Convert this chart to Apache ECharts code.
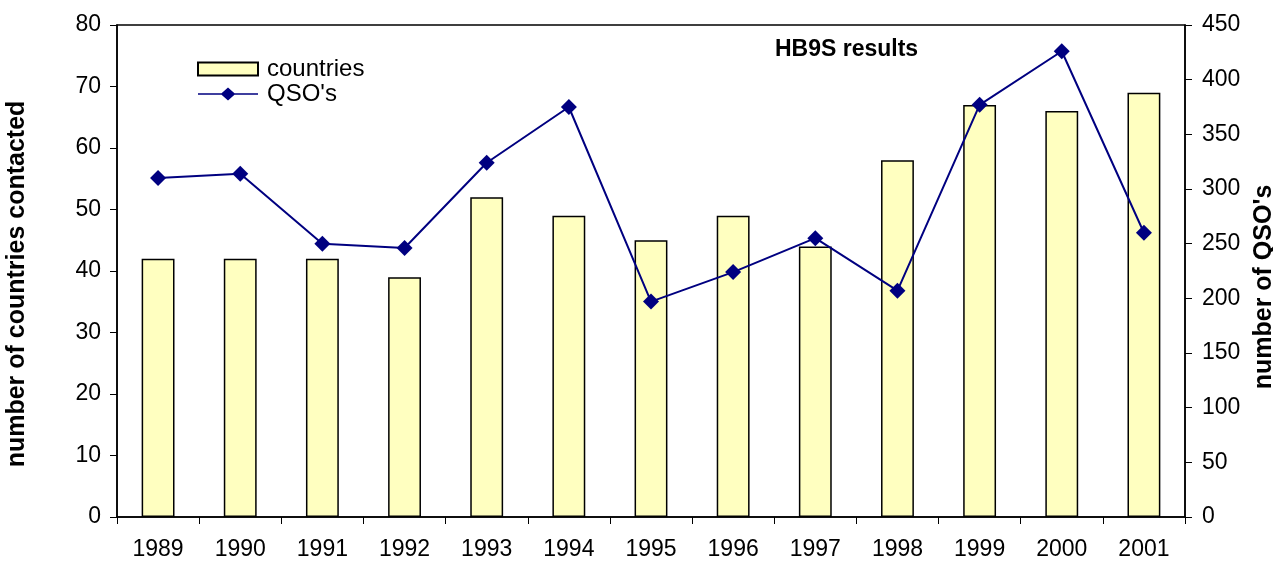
<!DOCTYPE html>
<html>
<head>
<meta charset="utf-8">
<script src="https://cdn.jsdelivr.net/npm/echarts@6/dist/echarts.min.js"></script>
<style>
html,body{margin:0;padding:0;background:#fff;}
#chart{width:1273px;height:561px;}
</style>
</head>
<body>
<div id="chart"></div>
<script>
const years = ['1989','1990','1991','1992','1993','1994','1995','1996','1997','1998','1999','2000','2001'];
const countries = [42, 42, 42, 39, 52, 49, 45, 49, 44, 58, 67, 66, 69];
const qsos = [310, 314, 250, 246, 324, 375, 197, 224, 255, 207, 377, 426, 260];

const FONT = '"Liberation Sans", Arial, sans-serif';
const lineDiamondIcon = 'path://M0,5.75 L23.5,5.75 L30,0 L36.5,5.75 L60,5.75 L60,7.25 L36.5,7.25 L30,13 L23.5,7.25 L0,7.25 Z';
const chart = echarts.init(document.getElementById('chart'), null, {renderer: 'canvas'});
chart.setOption({
  animation: false,
  backgroundColor: '#fff',
  textStyle: {fontFamily: FONT, color: '#000'},
  title: {
    text: 'HB9S results',
    left: 775, top: 38, padding: 0,
    textStyle: {fontFamily: FONT, fontSize: 23, fontWeight: 'bold', color: '#000'}
  },
  legend: {
    orient: 'vertical',
    left: 197, top: 57, padding: 0,
    itemWidth: 60, itemHeight: 13, itemGap: 1,
    textStyle: {fontFamily: FONT, fontSize: 24, lineHeight: 22, color: '#000', padding: [0,0,0,4]},
    data: [
      {name: 'countries', icon: 'rect'},
      {name: "QSO's", icon: lineDiamondIcon}
    ]
  },
  grid: {
    left: 117, right: 88, top: 25, bottom: 44,
    outerBoundsMode: 'none',
    containLabel: false,
    show: true, borderColor: '#000', borderWidth: 1.5, backgroundColor: 'transparent'
  },
  xAxis: {
    type: 'category',
    data: years,
    boundaryGap: true,
    axisLine: {lineStyle: {color: '#000', width: 1.5}},
    axisTick: {show: true, interval: 0, length: 7, lineStyle: {color: '#000'}},
    axisLabel: {fontFamily: FONT, fontSize: 23, color: '#000', margin: 21, interval: 0}
  },
  yAxis: [
    {
      type: 'value', min: 0, max: 80, interval: 10, position: 'left',
      name: 'number of countries contacted',
      nameLocation: 'middle', nameGap: 87, nameRotate: 90,
      nameTextStyle: {fontFamily: FONT, fontSize: 25, fontWeight: 'bold', color: '#000', padding: [0, 26, 0, 0]},
      axisLine: {show: true, lineStyle: {color: '#000', width: 1.5}},
      axisTick: {show: true, length: 7, lineStyle: {color: '#000'}},
      axisLabel: {fontFamily: FONT, fontSize: 23, color: '#000', margin: 16},
      splitLine: {show: false}
    },
    {
      type: 'value', min: 0, max: 450, interval: 50, position: 'right',
      name: "number of QSO's",
      nameLocation: 'middle', nameGap: 54, nameRotate: 90,
      nameTextStyle: {fontFamily: FONT, fontSize: 25, fontWeight: 'bold', color: '#000', padding: [0, 32, 0, 0]},
      axisLine: {show: true, lineStyle: {color: '#000', width: 1.5}},
      axisTick: {show: true, length: 7, lineStyle: {color: '#000'}},
      axisLabel: {fontFamily: FONT, fontSize: 23, color: '#000', margin: 17},
      splitLine: {show: false}
    }
  ],
  series: [
    {
      name: 'countries',
      type: 'bar',
      yAxisIndex: 0,
      data: countries,
      barWidth: '40%',
      itemStyle: {color: '#FFFFC0', borderColor: '#000', borderWidth: 1.5}
    },
    {
      name: "QSO's",
      type: 'line',
      yAxisIndex: 1,
      data: qsos,
      symbol: 'diamond',
      symbolSize: 16,
      lineStyle: {color: '#000080', width: 2},
      itemStyle: {color: '#000080'}
    }
  ]
});
</script>
</body>
</html>
